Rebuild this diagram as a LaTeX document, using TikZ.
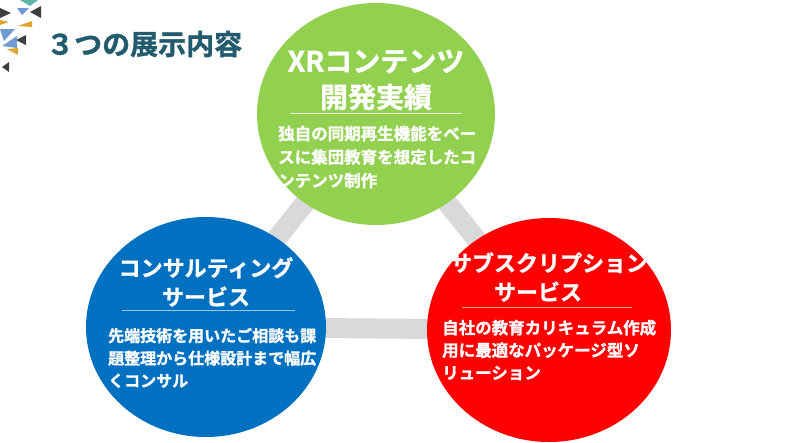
\documentclass[tikz,border=0pt]{standalone}
\usepackage{fontspec}
\setmainfont{Noto Sans CJK JP}[BoldFont={Noto Sans CJK JP Bold}, BoldFeatures={FakeBold=1.2}]
\usetikzlibrary{shapes.geometric, backgrounds, positioning}
\definecolor{xrgreen}{HTML}{92D050}
\definecolor{consblue}{HTML}{0070C0}
\definecolor{subred}{HTML}{FF0000}
\definecolor{headteal}{HTML}{225A6E}
\definecolor{bandgray}{HTML}{D9D9D9}
\definecolor{decoteal}{HTML}{5FB3A8}
\definecolor{decoblue}{HTML}{6E9BD2}
\definecolor{decoyellow}{HTML}{DDA630}
\definecolor{decodark}{HTML}{3F3F3F}
\tikzset{
	circlenode/.style={
			ellipse,
			draw=none,
			inner sep=0pt
		},
	xrnode/.style={
			circlenode,
			fill=xrgreen,
			minimum width=238pt,
			minimum height=222pt
		},
	consnode/.style={
			circlenode,
			fill=consblue,
			minimum width=240pt,
			minimum height=220pt
		},
	subnode/.style={
			circlenode,
			fill=subred,
			minimum width=244pt,
			minimum height=224pt
		},
	bandline/.style={
			draw=bandgray,
			line width=20pt
		},
	sepline/.style={
			line width=0.8pt
		},
	headtext/.style={
			text=white,
			font=\bfseries\fontsize{22}{29}\selectfont,
			align=center,
			inner sep=0pt
		},
	bodytext/.style={
			text=white,
			font=\bfseries\fontsize{16}{22.5}\selectfont,
			align=left,
			inner sep=0pt,
			anchor=west
		}
}
\begin{document}
\begin{tikzpicture}[x=1pt, y=-1pt]
\useasboundingbox (0,0) rectangle (787,442);

% corner triangles
\fill[decoteal] (20,0) -- (38,0) -- (30,6) -- cycle;
\fill[decodark] (0,8) -- (11,13) -- (0,18) -- cycle;
\fill[decoblue] (17,8) -- (29,8) -- (22,15) -- cycle;
\fill[decodark] (30,12) -- (41,6) -- (41,18) -- cycle;
\fill[decoyellow] (0,20) -- (9,22) -- (0,25) -- cycle;
\fill[decoyellow] (18,26) -- (32,21) -- (32,27) -- cycle;
\fill[decoblue] (0,29) -- (15,29) -- (4,41) -- cycle;
\fill[decodark] (16,40) -- (26,35) -- (26,45) -- cycle;
\fill[decoblue] (2,46) -- (17,36) -- (17,48) -- cycle;
\fill[decoyellow] (7,49) -- (18,48) -- (18,55) -- cycle;
\fill[decodark] (2,67) -- (9,62) -- (9,72) -- cycle;

% title
\node[text=headteal, font=\bfseries\fontsize{28}{30}\selectfont, anchor=west, inner sep=0pt] (tTitle) at (46,44) {３つの展示内容};

% circles
\node[xrnode] (tXR) at (376,114) {};
\node[consnode] (tCons) at (206,327) {};
\node[subnode] (tSub) at (549,330) {};

\begin{scope}[on background layer]
\draw[bandline] (tXR.center) -- (tCons.center);
\draw[bandline] (tXR.center) -- (tSub.center);
\draw[bandline] (tCons.center) -- (tSub.center);
\end{scope}

% green
\node[headtext, font=\bfseries\fontsize{28}{36}\selectfont] (tXRhead) at (376,80) {XRコンテンツ\\開発実績};
\draw[sepline, draw=white!80!xrgreen] (290,113) -- (462,113);
\node[bodytext, font=\bfseries\fontsize{16.5}{23.5}\selectfont] (tXRbody) at (278,157) {独自の同期再生機能をベー\\スに集団教育を想定したコ\\ンテンツ制作};

% blue
\node[headtext] (tConshead) at (206,282) {コンサルティング\\サービス};
\draw[sepline, draw=consblue!40!white] (122,310) -- (295,310);
\node[bodytext] (tConsbody) at (108,358) {先端技術を用いたご相談も課\\題整理から仕様設計まで幅広\\くコンサル};

% red
\node[headtext] (tSubhead) at (549,277) {サブスクリプション\\サービス\hspace*{22pt}};
\draw[sepline, draw=subred!40!white] (462,307) -- (632,307);
\node[bodytext, font=\bfseries\fontsize{16.5}{22.5}\selectfont] (tSubbody) at (442,350) {自社の教育カリキュラム作成\\用に最適なパッケージ型ソ\\リューション};

\end{tikzpicture}
\end{document}
